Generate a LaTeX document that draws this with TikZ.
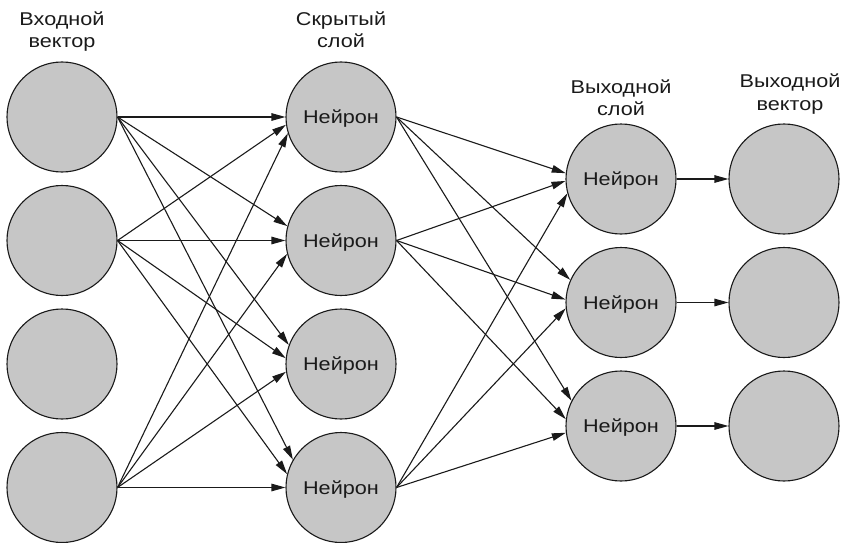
\documentclass[tikz,border=0pt]{standalone}
\usepackage{fontspec}
\setmainfont{Liberation Sans}[FakeStretch=1.17]
\usetikzlibrary{arrows.meta}
\definecolor{cellfill}{HTML}{C6C6C6}
\definecolor{ink}{HTML}{1A1A1A}
\begin{document}
\begin{tikzpicture}[x=1pt,y=-1pt,
  font=\fontsize{18.5}{22}\selectfont,
  unit/.style={circle, draw=ink, fill=cellfill, line width=1.1pt,
    minimum size=110pt, inner sep=0pt, text=ink,
    text height=13pt, text depth=0pt},
  caption/.style={align=center, anchor=base, text=ink},
  link/.style={draw=ink, line width=1.1pt, -{Triangle[length=14pt,width=7.5pt]}}]
\useasboundingbox (0,0) rectangle (843,543);

% input vector
\node[unit] (i1) at (62,117) {};
\node[unit] (i2) at (62,240.5) {};
\node[unit] (i3) at (62,364) {};
\node[unit] (i4) at (62,487.5) {};
% hidden layer
\node[unit] (h1) at (341,117) {Нейрон};
\node[unit] (h2) at (341,240.5) {Нейрон};
\node[unit] (h3) at (341,364) {Нейрон};
\node[unit] (h4) at (341,487.5) {Нейрон};
% output layer
\node[unit] (o1) at (621,179) {Нейрон};
\node[unit] (o2) at (621,302.5) {Нейрон};
\node[unit] (o3) at (621,426) {Нейрон};
% output vector
\node[unit] (v1) at (784,179) {};
\node[unit] (v2) at (784,302.5) {};
\node[unit] (v3) at (784,426) {};

% column captions (anchored at the baseline of the second line)
\node[caption] (ci) at (62,48) {Входной\\вектор};
\node[caption] (ch) at (341,48) {Скрытый\\слой};
\node[caption] (co) at (621,115) {Выходной\\слой};
\node[caption] (cv) at (790,110) {Выходной\\вектор};

% input -> hidden
\draw[link] (i1.east) -- (h1.180);
\draw[link] (i2.east) -- (h1.188);
\draw[link] (i4.east) -- (h1.197);
\draw[link] (i1.east) -- (h2.165);
\draw[link] (i2.east) -- (h2.180);
\draw[link] (i4.east) -- (h2.194);
\draw[link] (i1.east) -- (h3.160);
\draw[link] (i2.east) -- (h3.174);
\draw[link] (i4.east) -- (h3.188);
\draw[link] (i1.east) -- (h4.150);
\draw[link] (i2.east) -- (h4.166);
\draw[link] (i4.east) -- (h4.180);

% hidden -> output layer
\draw[link] (h1.east) -- (o1.174);
\draw[link] (h2.east) -- (o1.182);
\draw[link] (h4.east) -- (o1.195);
\draw[link] (h1.east) -- (o2.156);
\draw[link] (h2.east) -- (o2.177);
\draw[link] (h4.east) -- (o2.186);
\draw[link] (h1.east) -- (o3.153);
\draw[link] (h2.east) -- (o3.173);
\draw[link] (h4.east) -- (o3.187);

% output layer -> output vector
\draw[link] (o1.east) -- (v1.west);
\draw[link] (o2.east) -- (v2.west);
\draw[link] (o3.east) -- (v3.west);
\end{tikzpicture}
\end{document}
